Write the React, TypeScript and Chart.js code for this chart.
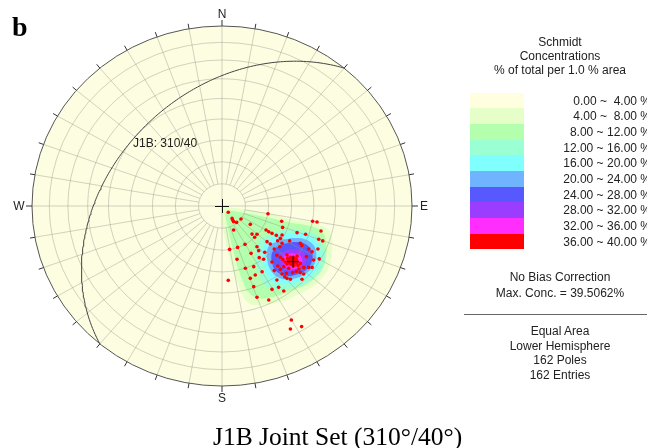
import React, { useEffect, useRef } from "react";
import { Chart, registerables } from "chart.js";
Chart.register(...registerables);

// ---------- data (equal-area projection units: east / north, primitive radius = 1) ----------
const poleEast = [
  0.033, 0.242, 0.053, 0.056, 0.061, 0.077, 0.100, 0.314, 0.477, 0.500,
  0.061, 0.149, 0.232, 0.246, 0.158, 0.184, 0.172, 0.263, 0.316, 0.307,
  0.395, 0.440, 0.521, 0.509, 0.530, 0.121, 0.184, 0.237, 0.254, 0.293,
  0.316, 0.304, 0.275, 0.356, 0.412, 0.421, 0.082, 0.040, 0.153, 0.193,
  0.225, 0.456, 0.505, 0.079, 0.196, 0.219, 0.289, 0.307, 0.342, 0.360,
  0.377, 0.395, 0.474, 0.482, 0.512, 0.123, 0.167, 0.211, 0.263, 0.325,
  0.342, 0.351, 0.412, 0.430, 0.456, 0.474, 0.149, 0.175, 0.330, 0.342,
  0.360, 0.412, 0.430, 0.421, 0.033, 0.167, 0.263, 0.298, 0.325, 0.184,
  0.246, 0.365, 0.360, 0.419,
  0.346, 0.356, 0.370, 0.384, 0.363, 0.389, 0.375, 0.400, 0.333, 0.321,
  0.405, 0.391, 0.372, 0.307, 0.293, 0.339, 0.316, 0.275, 0.444, 0.289,
  0.319, 0.286,
];
const poleNorth = [
  -0.035, -0.043, -0.069, -0.078, -0.087, -0.091, -0.072, -0.085, -0.085, -0.089,
  -0.133, -0.102, -0.133, -0.143, -0.156, -0.157, -0.174, -0.152, -0.161, -0.180,
  -0.148, -0.157, -0.139, -0.185, -0.194, -0.213, -0.226, -0.198, -0.211, -0.193,
  -0.207, -0.226, -0.239, -0.194, -0.207, -0.220, -0.230, -0.241, -0.263, -0.248,
  -0.257, -0.239, -0.239, -0.296, -0.287, -0.296, -0.274, -0.285, -0.272, -0.285,
  -0.296, -0.278, -0.254, -0.300, -0.294, -0.346, -0.337, -0.365, -0.311, -0.337,
  -0.322, -0.346, -0.319, -0.341, -0.341, -0.341, -0.402, -0.383, -0.393, -0.402,
  -0.407, -0.370, -0.378, -0.407, -0.413, -0.448, -0.463, -0.452, -0.472, -0.507,
  -0.522, -0.633, -0.683, -0.670,
  -0.291, -0.302, -0.307, -0.315, -0.322, -0.294, -0.333, -0.330, -0.311, -0.298,
  -0.350, -0.363, -0.370, -0.352, -0.333, -0.374, -0.378, -0.359, -0.281, -0.411,
  -0.119, -0.163,
];

const maxConcEast = [0.374];
const maxConcNorth = [-0.309];

const planeName = "J1B";
const planeDipDirection = [310];
const planeDip = [40];

const levelLabels = [
  "0.00 ~  4.00 %",
  "4.00 ~  8.00 %",
  "8.00 ~ 12.00 %",
  "12.00 ~ 16.00 %",
  "16.00 ~ 20.00 %",
  "20.00 ~ 24.00 %",
  "24.00 ~ 28.00 %",
  "28.00 ~ 32.00 %",
  "32.00 ~ 36.00 %",
  "36.00 ~ 40.00 %",
];
const levelColors = [
  "#FFFFE0", "#E6FFC8", "#B3FFAD", "#9BFFD4", "#80FFFF",
  "#70B4FF", "#5858FF", "#9B3DFF", "#FF2EFF", "#FF0000",
];

type Pt = [number, number];
const contour04: Pt[] = [
  [0.149, -0.022], [0.254, -0.044], [0.359, -0.072], [0.465, -0.089], [0.528, -0.111],
  [0.569, -0.144], [0.580, -0.217], [0.575, -0.289], [0.554, -0.356], [0.507, -0.422],
  [0.438, -0.472], [0.359, -0.511], [0.281, -0.539], [0.212, -0.550], [0.149, -0.544],
  [0.112, -0.506], [0.086, -0.439], [0.054, -0.344], [0.028, -0.244], [0.007, -0.133],
  [-0.004, -0.050], [-0.004, -0.008], [0.070, -0.011],
];
const contour08: Pt[] = [
  [0.123, -0.039], [0.254, -0.067], [0.370, -0.094], [0.465, -0.111], [0.528, -0.144],
  [0.549, -0.217], [0.544, -0.300], [0.507, -0.378], [0.438, -0.439], [0.359, -0.472],
  [0.265, -0.506], [0.191, -0.511], [0.138, -0.478], [0.107, -0.411], [0.075, -0.311],
  [0.049, -0.206], [0.028, -0.106], [0.023, -0.033],
];
const contour12: Pt[] = [
  [0.317, -0.133], [0.412, -0.133], [0.486, -0.156], [0.528, -0.211], [0.544, -0.289],
  [0.517, -0.367], [0.454, -0.422], [0.370, -0.456], [0.286, -0.467], [0.223, -0.439],
  [0.191, -0.367], [0.175, -0.289], [0.191, -0.211], [0.233, -0.167],
];
const contour16: Pt[] = [
  [0.349, -0.156], [0.423, -0.156], [0.481, -0.178], [0.512, -0.233], [0.517, -0.300],
  [0.491, -0.361], [0.433, -0.406], [0.359, -0.428], [0.291, -0.428], [0.244, -0.394],
  [0.223, -0.333], [0.212, -0.267], [0.223, -0.211], [0.265, -0.178],
];
const contour20: Pt[] = [
  [0.370, -0.178], [0.433, -0.183], [0.481, -0.217], [0.496, -0.272], [0.481, -0.333],
  [0.438, -0.378], [0.370, -0.406], [0.302, -0.400], [0.259, -0.361], [0.238, -0.300],
  [0.244, -0.228], [0.296, -0.194],
];
const contour24: Pt[] = [
  [0.375, -0.200], [0.428, -0.206], [0.470, -0.244], [0.475, -0.300], [0.449, -0.350],
  [0.402, -0.378], [0.338, -0.389], [0.291, -0.367], [0.265, -0.322], [0.265, -0.256],
  [0.312, -0.217],
];
const contour28: Pt[] = [
  [0.359, -0.239], [0.412, -0.244], [0.444, -0.278], [0.438, -0.322], [0.402, -0.356],
  [0.349, -0.361], [0.312, -0.333], [0.302, -0.294], [0.312, -0.261],
];
const contour32: Pt[] = [
  [0.370, -0.261], [0.407, -0.272], [0.423, -0.306], [0.407, -0.339], [0.365, -0.350],
  [0.333, -0.333], [0.323, -0.306], [0.328, -0.278],
];
const contour36: Pt[] = [
  [0.381, -0.278], [0.402, -0.300], [0.396, -0.328], [0.365, -0.333], [0.344, -0.317],
  [0.344, -0.289],
];
const contours = [contour04, contour08, contour12, contour16, contour20, contour24, contour28, contour32, contour36];

// ---------- geometry helpers ----------
const D2R = Math.PI / 180;
const SQ2 = Math.SQRT2;
function projectLine(trend: number, plunge: number) {
  const r = SQ2 * Math.sin(((90 - plunge) / 2) * D2R);
  return { x: r * Math.sin(trend * D2R), y: r * Math.cos(trend * D2R) };
}
function greatCircle(dipDir: number, dip: number) {
  const pts: { x: number; y: number }[] = [];
  for (let t = dipDir - 90; t <= dipDir + 90; t += 1) {
    const p = Math.atan(Math.tan(dip * D2R) * Math.cos((t - dipDir) * D2R)) / D2R;
    pts.push(projectLine(t, p));
  }
  return pts;
}
function geom(chart: any) {
  const xs = chart.scales.x;
  const ys = chart.scales.y;
  const cx = xs.getPixelForValue(0);
  const cy = ys.getPixelForValue(0);
  const rx = xs.getPixelForValue(1) - cx;
  const ry = cy - ys.getPixelForValue(1);
  return { cx, cy, rx, ry };
}

const GC_INDEX = 2;
const FONT = '"Liberation Sans", Arial, sans-serif';

const stereonetFrame = {
  id: "stereonetFrame",
  beforeDatasetsDraw(chart: any) {
    const { ctx } = chart;
    const { cx, cy, rx, ry } = geom(chart);
    ctx.save();
    ctx.beginPath();
    ctx.ellipse(cx, cy, rx, ry, 0, 0, Math.PI * 2);
    ctx.fillStyle = "#FDFDE1";
    ctx.fill();
    ctx.restore();
  },
  beforeDatasetDraw(chart: any, args: any) {
    if (args.index !== GC_INDEX) return;
    const { ctx } = chart;
    const { cx, cy, rx, ry } = geom(chart);
    ctx.save();
    ctx.strokeStyle = "rgba(150,150,140,0.42)";
    ctx.lineWidth = 1;
    for (let k = 1; k <= 8; k++) {
      const r = SQ2 * Math.sin(k * 5 * D2R);
      ctx.beginPath();
      ctx.ellipse(cx, cy, rx * r, ry * r, 0, 0, Math.PI * 2);
      ctx.stroke();
    }
    const r0 = SQ2 * Math.sin(5 * D2R);
    for (let az = 0; az < 360; az += 10) {
      const s = Math.sin(az * D2R);
      const c = Math.cos(az * D2R);
      const a = az % 90 === 0 ? 0 : r0;
      ctx.beginPath();
      ctx.moveTo(cx + rx * a * s, cy - ry * a * c);
      ctx.lineTo(cx + rx * s, cy - ry * c);
      ctx.stroke();
    }
    // centre cross
    ctx.strokeStyle = "#111";
    ctx.beginPath();
    ctx.moveTo(cx - 7, cy + 0.5);
    ctx.lineTo(cx + 7, cy + 0.5);
    ctx.moveTo(cx + 0.5, cy - 7);
    ctx.lineTo(cx + 0.5, cy + 7);
    ctx.stroke();
    ctx.restore();
  },
  afterDatasetsDraw(chart: any) {
    const { ctx } = chart;
    const { cx, cy, rx, ry } = geom(chart);
    ctx.save();
    ctx.strokeStyle = "#555";
    ctx.lineWidth = 1;
    ctx.beginPath();
    ctx.ellipse(cx, cy, rx, ry, 0, 0, Math.PI * 2);
    ctx.stroke();
    // ticks
    ctx.strokeStyle = "#333";
    for (let az = 0; az < 360; az += 10) {
      const s = Math.sin(az * D2R);
      const c = Math.cos(az * D2R);
      const len = az % 90 === 0 ? 6 : 5;
      const x0 = cx + rx * s;
      const y0 = cy - ry * c;
      ctx.beginPath();
      ctx.moveTo(x0, y0);
      ctx.lineTo(x0 + len * s, y0 - len * c);
      ctx.stroke();
    }
    ctx.fillStyle = "#222";
    ctx.font = `12px ${FONT}`;
    ctx.textAlign = "center";
    ctx.textBaseline = "middle";
    ctx.fillText("N", cx, cy - ry - 11);
    ctx.fillText("S", cx, cy + ry + 13);
    ctx.fillText("E", cx + rx + 12, cy + 1);
    ctx.fillText("W", cx - rx - 13, cy + 1);
    ctx.textAlign = "left";
    ctx.fillText(`${planeName}: ${planeDipDirection[0]}/${planeDip[0]}`, 133, 144);
    ctx.restore();
  },
};

export default function App() {
  const ref = useRef<HTMLCanvasElement>(null);
  useEffect(() => {
    const contourSets = contours.map((poly, i) => ({
      label: levelLabels[i + 1],
      data: [...poly, poly[0]].map(([x, y]) => ({ x, y })),
      showLine: true,
      fill: "shape" as const,
      backgroundColor: levelColors[i + 1],
      borderWidth: 0,
      borderColor: "rgba(0,0,0,0)",
      pointRadius: 0,
      tension: 0.4,
      order: 20 - i,
    }));
    const chart = new Chart(ref.current!, {
      type: "scatter",
      data: {
        datasets: [
          {
            label: "Poles",
            data: poleEast.map((x, i) => ({ x, y: poleNorth[i] })),
            pointRadius: 1.8,
            backgroundColor: "#FF0000",
            borderWidth: 0,
            order: 1,
          } as any,
          {
            label: "Max",
            data: maxConcEast.map((x, i) => ({ x, y: maxConcNorth[i] })),
            pointStyle: "cross",
            pointRadius: 6,
            borderColor: "#111",
            borderWidth: 1,
            order: 0,
          },
          {
            label: planeName,
            data: greatCircle(planeDipDirection[0], planeDip[0]),
            showLine: true,
            borderColor: "#444",
            borderWidth: 1,
            pointRadius: 0,
            order: 2,
          },
          ...contourSets,
        ],
      },
      options: {
        animation: false,
        responsive: false,
        devicePixelRatio: 1,
        events: [],
        layout: { padding: { left: 32, right: 235, top: 26, bottom: 62 } },
        scales: {
          x: { type: "linear", min: -1, max: 1, display: false },
          y: { type: "linear", min: -1, max: 1, display: false },
        },
        plugins: { legend: { display: false }, tooltip: { enabled: false } },
      },
      plugins: [stereonetFrame],
    });
    return () => chart.destroy();
  }, []);

  const txt = (y: number, s: string) => (
    <div
      key={s}
      style={{
        position: "absolute",
        left: 460,
        width: 200,
        top: y - 7,
        height: 14,
        lineHeight: "14px",
        textAlign: "center",
        font: `12px ${FONT}`,
        color: "#222",
        whiteSpace: "pre",
      }}
    >
      {s}
    </div>
  );

  return (
    <div style={{ position: "fixed", left: 0, top: 0, width: 647, height: 448, overflow: "hidden", background: "#fff" }}>
      <canvas ref={ref} width={647} height={448} style={{ position: "absolute", left: 0, top: 0, width: 647, height: 448 }} />
      <div
        style={{
          position: "absolute",
          left: 12,
          top: 11,
          lineHeight: "28px",
          font: 'bold 28px "Liberation Serif", "Times New Roman", serif',
          color: "#000",
        }}
      >
        b
      </div>
      {txt(42, "Schmidt")}
      {txt(55.5, "Concentrations")}
      {txt(69.5, "% of total per 1.0 % area")}
      {levelColors.map((c, i) => (
        <div
          key={c}
          style={{ position: "absolute", left: 470, width: 54, top: 92.7 + i * 15.67, height: 15.67, background: c }}
        />
      ))}
      {levelLabels.map((l, i) => (
        <div
          key={l}
          style={{
            position: "absolute",
            left: 530,
            width: 121,
            top: 92.7 + (i + 0.5) * 15.67 - 7,
            height: 14,
            lineHeight: "14px",
            textAlign: "right",
            font: `12px ${FONT}`,
            color: "#222",
            whiteSpace: "pre",
          }}
        >
          {l}
        </div>
      ))}
      {txt(277, "No Bias Correction")}
      {txt(293, "Max. Conc. = 39.5062%")}
      <div style={{ position: "absolute", left: 464, width: 183, top: 313.5, height: 1, background: "#666" }} />
      {txt(331, "Equal Area")}
      {txt(345.5, "Lower Hemisphere")}
      {txt(360, "162 Poles")}
      {txt(374.5, "162 Entries")}
      <div
        style={{
          position: "absolute",
          left: 213,
          top: 421.5,
          lineHeight: "25.5px",
          font: '25.5px "Liberation Serif", "Times New Roman", serif',
          color: "#000",
          whiteSpace: "pre",
        }}
      >
        J1B Joint Set (310°/40°)
      </div>
    </div>
  );
}
